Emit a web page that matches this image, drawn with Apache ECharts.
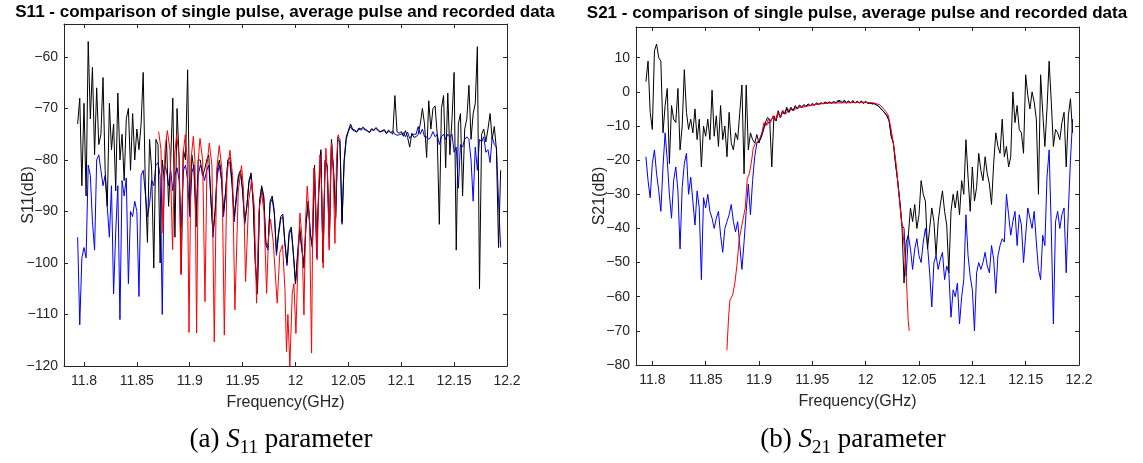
<!DOCTYPE html>
<html><head><meta charset="utf-8">
<script src="https://cdn.jsdelivr.net/npm/echarts@6/dist/echarts.min.js"></script>
<style>html,body{margin:0;padding:0;background:#fff}#c{width:1143px;height:463px}</style>
</head><body><div id="c"></div>
<script>
// ---- sampling grid of the pulse measurements (GHz) ----
const freqStart = 11.794;
const freqStep = 0.002;
// ---- tick labels ----
const xTicks = [11.8, 11.85, 11.9, 11.95, 12, 12.05, 12.1, 12.15, 12.2];
const s11YTicks = [-120, -110, -100, -90, -80, -70, -60];
const s21YTicks = [-80, -70, -60, -50, -40, -30, -20, -10, 0, 10];

// ---- S11 (dB) ----
const s11SinglePulse = [
-73,-68,-85,-69,-87,-57,-72,-62,-79,-66,
-77,-75,-64,-82,-89,-69,-78,-73,-86,-67,
-80,-75,-84,-72,-70,-82,-71,-80,-74,-78,
-73,-63,-85,-96,-76,-82,-101,-76,-77,-100,
-80,-84,-76,-89,-80,-68,-95,-70,-80,-102,
-78,-80,-62.5,-90,-79,-82,-93,-80,-80,-83,
-82,-80,-79,-88,-94,-90,-82,-80,-83,-90,
-86,-80,-79.5,-84,-91,-87,-83,-82,-86,-92,
-89,-84,-82.5,-88,-100,-106,-88,-85,-87,-96,
-97,-88,-87,-90,-98,-94,-91,-90.5,-96,-100,
-94,-93,-98,-104,-98,-93,-97,-101,-92,-88,
-94,-97,-81,-96,-86,-78,-100,-80,-81,-95,
-76,-82,-91,-75.5,-76,-92,-80,-75.5,-74.3,-73,
-74,-74.2,-74.5,-73.8,-74,-73.6,-74,-74.3,-74.6,-73.9,
-74.2,-73.7,-74.1,-74.5,-74.3,-74.1,-74.8,-74.2,-74.6,-75,
-67.5,-74.5,-74.8,-74.5,-75.4,-74.3,-75.6,-77.5,-74.8,-75.6,
-75.5,-75,-73,-70,-73,-79.5,-68.5,-74,-70,-69.5,
-75,-92.5,-70,-67.5,-81.5,-67,-79,-72,-63,-97.5,
-73,-71,-87,-74,-72,-65.5,-76,-71,-69,-58,
-105,-75,-74,-76.5,-74,-71,-76,-73.5,-78,-97,
-82];
const s11AveragePulse = [
-95,-112,-99,-97,-99,-81,-83,-92,-97.5,-80,
-79,-82,-85,-83,-89,-95,-85,-106,-94,-85,
-111,-84,-87,-83.5,-104,-90,-91,-88,-90,-106.5,
-83,-82,-86.5,-91,-88.5,-84,-85,-81,-80.5,-83,
-110,-81,-82,-85,-82,-86,-83,-81.5,-84,-93,
-82,-81,-84,-91,-82.5,-81,-90,-83,-81,-82,
-84,-82,-81,-87,-95,-90,-83,-81,-84,-91,
-86,-80.5,-80.5,-85,-92,-88,-83.5,-82.5,-86,-92.5,
-89,-84.5,-83,-88.5,-100,-105,-88.5,-85.5,-87.5,-96.5,
-97.5,-88.5,-87.5,-90.5,-98.5,-94.5,-91.5,-91,-96.5,-100.5,
-94.5,-93.5,-98.5,-104,-99,-94,-97.5,-100,-92.5,-88.5,
-94.5,-97,-82,-99,-86.5,-78.5,-99.5,-80.5,-81.5,-97,
-76.5,-82.5,-91.5,-76,-76.5,-92.5,-80.5,-76,-74.5,-73.5,
-74.2,-74.4,-74.6,-74,-74.2,-73.9,-74.2,-74.4,-74.7,-74.1,
-74.3,-73.9,-74.3,-74.6,-74.4,-74.3,-74.9,-74.4,-74.7,-74.4,
-75,-75.2,-75.1,-75,-74.7,-75.5,-74.6,-75.8,-75.2,-75,
-75,-73.5,-75,-74,-75.5,-75.5,-76,-75.5,-74.5,-75.5,
-75,-77,-75.5,-75,-76,-75,-75.5,-75,-78.5,-77.5,
-85.5,-77,-77.5,-76,-75.5,-76,-80,-88,-77.5,-82,
-76,-76.5,-75.5,-78.5,-78,-80.5,-75.5,-77,-77.5,-88,
-97];
const s11RecordedFreq = [
11.8706,11.8728,11.8747,11.8766,11.8788,11.8813,11.8838,11.8857,11.8876,11.8898,
11.8917,11.8936,11.8958,11.8977,11.8993,11.9012,11.9034,11.9049,11.9065,11.9081,
11.9097,11.9122,11.9144,11.9163,11.9185,11.921,11.9232,11.9254,11.9279,11.9305,
11.9327,11.9352,11.938,11.9405,11.9427,11.9459,11.949,11.9509,11.9528,11.9557,
11.9585,11.961,11.9632,11.9654,11.968,11.9702,11.9727,11.9745,11.9764,11.979,
11.9827,11.9852,11.9877,11.99,11.9915,11.9928,11.9947,11.9969,11.9985,12.0004,
12.0023,12.0042,12.0061,12.008,12.0095,12.0111,12.0133,12.0152,12.0164,12.0174,
12.019,12.0205,12.0218,12.0231,12.0246,12.0262,12.0275,12.0287,12.0303,12.0319,
12.0332,12.0341,12.0357,12.0373,12.0388,12.0404,12.0413];
const s11Recorded = [
-74.5,-78,-94.2,-78,-74.3,-78,-97.4,-79,-75.1,-79,
-102.3,-79,-75.1,-80,-113.5,-80,-75.4,-80,-113.6,-80,
-75.8,-80,-107.5,-81,-76.7,-81,-115.3,-82,-77.2,-82,
-114,-83,-78.1,-83,-109.1,-86,-81.1,-86,-103.6,-88,
-83.9,-89,-107.8,-90,-86.4,-90,-105.9,-95,-91.5,-96,
-107.8,-98,-96.5,-105,-117.2,-110,-120,-106,-104,-113.7,
-100,-90.3,-95,-110.1,-92,-85.1,-92,-117.5,-90,-81.6,
-88,-99.4,-86,-79,-85,-101,-84,-77.7,-83,-97.5,
-82,-76.7,-82,-96.2,-80,-75.1,-75.5];

// ---- S21 (dB) ----
const s21SinglePulse = [
3,9,-6,-11,12,14,10,9,-12,-4,
1,-21,-4,-8,-9,1,-17,-10,6.5,-6,
-11,-8,-12,-5,-14,-8,-22,-10,-13,-8,
-14,0.5,-13,-7,-16,-4,-14,-10,-19,-6,
-15,-17,-12,-14,-6,2,-24,2,-17,-12,
-14,-15,-12.5,-15,-13,-11,-9,-7.5,-8,-22,
-7,-8.5,-5.5,-7.5,-5.5,-6.5,-4.5,-6,-4.5,-5.5,
-4,-5,-3.8,-4.5,-3.7,-4.2,-3.5,-4,-3.4,-3.8,
-3.2,-3.6,-3.2,-3.4,-3,-3.3,-2.9,-3.3,-2.8,-3.2,
-2.6,-2.5,-3.2,-2.4,-3.2,-2.6,-3.3,-2.5,-3.3,-2.7,
-3.3,-2.6,-3.4,-2.7,-3.4,-3.2,-3.5,-3.4,-3.8,-4.2,
-4.8,-5.5,-6.2,-7,-8.5,-13,-15,-21,-26,-32,
-39,-56,-44,-42,-34,-38,-33,-40,-36,-26,
-30,-32,-46,-40,-34,-38,-48,-38,-33,-29,
-35,-39,-53,-35,-30,-34,-29,-36,-26,-30,
-14,-25,-35,-22,-32,-28,-18,-23,-26,-19,
-24,-27,-33,-21,-12,-16,-18,-8,-19,-16,
-22,-19,0,-9,-4,-11,-12,-18,5,-1,
-5,0,-3,-8,-30,5,-6,-16,-5,9,
-3,-16,-11,-12,-14,-9,-6,-22,-7,-2,
-12];
const s21AveragePulse = [
-19,-26,-31,-21,-17,-24,-29,-35,-22,-12,
-20,-30,-37,-26,-22,-29,-46,-28,-21,-18,
-30,-25,-32,-39,-29,-34,-55,-31,-34,-30,
-35,-37,-40,-37,-35,-42,-47,-40,-38,-36,
-33,-38,-41,-38,-45,-52,-44,-35,-27,-36,
-26,-19,-15,-14.5,-13.5,-11.5,-9,-9.5,-8.5,-8,
-7.5,-8.5,-6,-7.5,-6,-6.5,-5,-6,-5,-5.5,
-4.5,-5,-4.2,-4.6,-4,-4.3,-3.8,-4.1,-3.7,-3.9,
-3.5,-3.7,-3.4,-3.5,-3.2,-3.4,-3.1,-3.3,-3,-3.2,
-2.8,-2.9,-3.1,-2.8,-3.2,-2.9,-3.2,-2.9,-3.2,-3,
-3.2,-3,-3.3,-3,-3.3,-3.3,-3.5,-3.5,-3.8,-4.2,
-4.8,-5.5,-6.2,-7,-8.5,-13,-15,-21,-26,-32,
-39,-40,-54,-42,-46,-52,-46,-43,-48,-50,
-44,-40,-45,-53,-63,-50,-48,-52,-49,-47,
-55,-51,-53,-66,-58,-60,-56,-68,-60,-55,
-36,-48,-54,-58,-70,-53,-50,-52,-50,-47,
-51,-53,-45,-49,-59,-48,-45,-43,-44,-30,
-36,-42,-38,-35,-45,-36,-39,-50,-42,-34,
-37,-40,-35,-44,-52,-55,-42,-45,-25,-17,
-40,-68,-38,-35,-40,-36,-34,-53,-35,-20,
-8];
const s21RecordedFreq = [
11.8699,11.8715,11.8728,11.8753,11.8774,11.8796,11.8815,11.8834,11.8852,11.8871,
11.889,11.8909,11.8927,11.8946,11.8968,11.899,11.9009,11.9027,11.9046,11.9065,
11.9087,11.9109,11.913,11.9152,11.9177,11.9202,11.9227,11.9252,11.9283,11.9321,
11.9368,11.9415,11.9477,11.9571,11.9664,11.982,11.9977,12.007,12.0133,12.0164,
12.0189,12.0211,12.0233,12.0252,12.0273,12.0289,12.0305,12.032,12.0336,12.0352,
12.0367,12.038,12.0389,12.0399,12.0408];
const s21Recorded = [
-75.7,-66,-61,-59.5,-56,-50,-43,-40,-39.5,-34,
-25.5,-24,-21,-16.5,-15,-14.5,-13.5,-12,-9,-10,
-8,-9,-7,-8.5,-6,-7.5,-5.5,-6.5,-5,-5.5,
-4.5,-4.5,-4,-3.5,-3.3,-3.2,-3,-3.2,-3.8,-4.8,
-5.8,-6.8,-10,-13.5,-18,-22,-28,-33,-38,-42,
-47,-53,-60,-67,-70];

// ---- build ----
const gridFreq = (n) => Array.from({length: n}, (_, i) => +(freqStart + i * freqStep).toFixed(4));
const pairs = (fs, vs) => vs.map((v, i) => [fs[i], v]);
const s11Grid = gridFreq(s11SinglePulse.length);
const s21Grid = gridFreq(s21SinglePulse.length);

const FONT = 'Liberation Sans, Arial, Helvetica, sans-serif';
const AX = '#262626';
const fmtX = v => String(Math.round(v * 100) / 100);
const fmtY = v => String(Math.round(v)).replace('-', '\u2212');

function xAxes(gi, min) {
  const base = {gridIndex: gi, type: 'value', min: min, max: 12.2, splitLine: {show: false},
    axisLine: {onZero: false, lineStyle: {color: AX, width: 1}}};
  return [
    Object.assign({}, base, {position: 'bottom',
      axisTick: {inside: true, length: 4, customValues: xTicks, lineStyle: {color: AX}},
      axisLabel: {customValues: xTicks, formatter: fmtX, fontSize: 14, color: AX, fontFamily: FONT, margin: 8},
      name: 'Frequency(GHz)', nameLocation: 'middle', nameGap: 29, nameMoveOverlap: false,
      nameTextStyle: {fontSize: 16, color: AX, fontFamily: FONT}}),
    Object.assign({}, base, {position: 'top',
      axisTick: {inside: true, length: 4, customValues: xTicks, lineStyle: {color: AX}},
      axisLabel: {show: false}})
  ];
}
function yAxes(gi, min, max, ticks, name, gap) {
  const base = {gridIndex: gi, type: 'value', min: min, max: max, splitLine: {show: false},
    axisLine: {show: true, onZero: false, lineStyle: {color: AX, width: 1}}};
  return [
    Object.assign({}, base, {position: 'left',
      axisTick: {show: true, inside: true, length: 4, customValues: ticks, lineStyle: {color: AX}},
      axisLabel: {customValues: ticks, formatter: fmtY, fontSize: 14, color: AX, fontFamily: FONT, margin: 6},
      name: name, nameLocation: 'middle', nameGap: gap, nameMoveOverlap: false,
      nameTextStyle: {fontSize: 16, color: AX, fontFamily: FONT}}),
    Object.assign({}, base, {position: 'right',
      axisTick: {show: true, inside: true, length: 4, customValues: ticks, lineStyle: {color: AX}},
      axisLabel: {show: false}})
  ];
}
function line(xi, yi, data, color) {
  return {type: 'line', xAxisIndex: xi, yAxisIndex: yi, data: data, showSymbol: false, symbol: 'none',
    lineStyle: {color: color, width: 1}, itemStyle: {color: color}, animation: false, clip: true};
}

const chart = echarts.init(document.getElementById('c'), null, {renderer: 'canvas'});
const capStyle = {fontFamily: 'Liberation Serif, Times New Roman, serif', fontSize: 27, fill: '#000'};
function caption(x, label, sub) {
  return {type: 'text', x: x, y: 440, style: {
    text: '{n|' + label + ' }{s|S}{b|' + sub + '}{n| parameter}',
    align: 'center', verticalAlign: 'middle', fill: '#000',
    rich: {
      n: Object.assign({}, capStyle, {lineHeight: 30}),
      s: Object.assign({}, capStyle, {fontStyle: 'italic', lineHeight: 30}),
      b: Object.assign({}, capStyle, {fontSize: 19, lineHeight: 19, padding: [14, 0, 0, 0], verticalAlign: 'top'})
    }}};
}
chart.setOption({
  animation: false,
  backgroundColor: '#fff',
  grid: [
    {left: 64, top: 24, width: 443, height: 342},
    {left: 636, top: 27, width: 443, height: 338}
  ],
  xAxis: [].concat(xAxes(0, 11.7811), xAxes(1, 11.7847)),
  yAxis: [].concat(yAxes(0, -120, -53.6, s11YTicks, 'S11(dB)', 27), yAxes(1, -80, 19, s21YTicks, 'S21(dB)', 28)),
  series: [
    line(0, 0, pairs(s11Grid, s11AveragePulse), '#0000ff'),
    line(0, 0, pairs(s11Grid, s11SinglePulse), '#000000'),
    line(0, 0, pairs(s11RecordedFreq, s11Recorded), '#ff0000'),
    line(2, 2, pairs(s21Grid, s21AveragePulse), '#0000ff'),
    line(2, 2, pairs(s21Grid, s21SinglePulse), '#000000'),
    line(2, 2, pairs(s21RecordedFreq, s21Recorded), '#ff0000')
  ],
  graphic: [
    {type: 'text', x: 285, y: 12, style: {text: 'S11 - comparison of single pulse, average pulse and recorded data',
      align: 'center', verticalAlign: 'middle', fontFamily: FONT, fontWeight: 'bold', fontSize: 17, fill: '#000'}},
    {type: 'text', x: 857, y: 13, style: {text: 'S21 - comparison of single pulse, average pulse and recorded data',
      align: 'center', verticalAlign: 'middle', fontFamily: FONT, fontWeight: 'bold', fontSize: 17, fill: '#000'}},
    caption(281, '(a)', '11'),
    caption(853, '(b)', '21')
  ]
});
</script></body></html>
